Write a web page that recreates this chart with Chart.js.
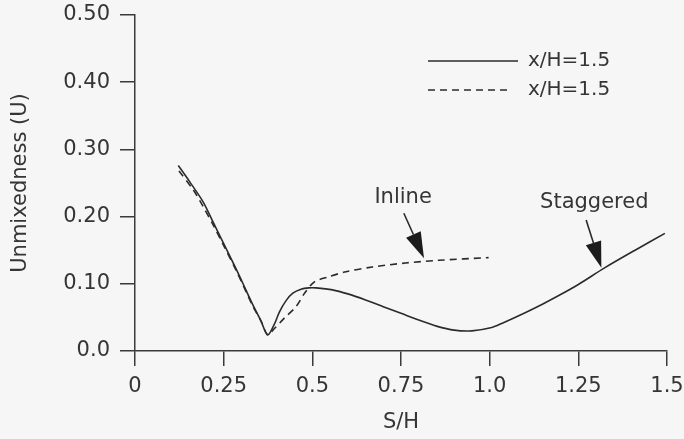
<!DOCTYPE html>
<html>
<head>
<meta charset="utf-8">
<script src="https://cdn.jsdelivr.net/npm/chart.js@4.4.1/dist/chart.umd.min.js"></script>
<style>
  html, body { margin: 0; padding: 0; background: #f6f6f6; }
  #chart { display: block; }
</style>
</head>
<body>
<canvas id="chart" width="684" height="439"></canvas>
<script>
// values
var staggeredSH = [0.122, 0.154, 0.192, 0.220, 0.248, 0.286, 0.310, 0.332, 0.355, 0.374, 0.393, 0.407, 0.426, 0.445, 0.468, 0.490, 0.510, 0.557, 0.600, 0.650, 0.700, 0.750, 0.800, 0.850, 0.900, 0.950, 1.006, 1.034, 1.100, 1.150, 1.200, 1.250, 1.325, 1.410, 1.494];
var staggeredU  = [0.276, 0.252, 0.222, 0.192, 0.162, 0.121, 0.094, 0.069, 0.045, 0.024, 0.040, 0.058, 0.075, 0.086, 0.092, 0.094, 0.094, 0.091, 0.085, 0.076, 0.066, 0.056, 0.046, 0.037, 0.031, 0.030, 0.035, 0.041, 0.057, 0.070, 0.084, 0.099, 0.124, 0.150, 0.175];
var inlineSH = [0.124, 0.164, 0.192, 0.220, 0.248, 0.286, 0.332, 0.355, 0.374, 0.389, 0.421, 0.454, 0.478, 0.506, 0.543, 0.595, 0.669, 0.763, 0.857, 0.997];
var inlineU  = [0.268, 0.240, 0.215, 0.188, 0.159, 0.119, 0.067, 0.045, 0.024, 0.031, 0.049, 0.066, 0.086, 0.103, 0.110, 0.118, 0.125, 0.131, 0.135, 0.139];

var seriesLabels = ["x/H=1.5", "x/H=1.5"];
var xTickLabels = ["0", "0.25", "0.5", "0.75", "1.0", "1.25", "1.5"];
var yTickLabels = ["0.0", "0.10", "0.20", "0.30", "0.40", "0.50"];

// callout labels and arrows, in data units
var calloutText = ["Inline", "Staggered"];
var calloutTextAt = [[0.756, 0.229], [1.295, 0.221]];
var calloutFrom = [[0.758, 0.205], [1.272, 0.195]];
var calloutTo = [[0.815, 0.138], [1.315, 0.124]];

var FONT = '"DejaVu Sans", "Liberation Sans", sans-serif';
var INK = '#2b2b2b';
var TEXT = '#353535';

function toPoints(xs, ys) {
  return xs.map(function (x, i) { return { x: x, y: ys[i] }; });
}

var legendLines = {
  id: 'legendLines',
  afterDraw: function (chart) {
    var ctx = chart.ctx;
    chart.data.datasets.forEach(function (ds, i) {
      var y = 61 + i * 29;
      ctx.save();
      ctx.strokeStyle = ds.borderColor;
      ctx.lineWidth = ds.borderWidth;
      ctx.setLineDash(ds.borderDash || []);
      ctx.beginPath();
      ctx.moveTo(428, y);
      ctx.lineTo(i === 0 ? 518 : 512, y);
      ctx.stroke();
      ctx.setLineDash([]);
      ctx.fillStyle = TEXT;
      ctx.font = '20px ' + FONT;
      ctx.textBaseline = 'middle';
      ctx.fillText(ds.label, 528, y);
      ctx.restore();
    });
  }
};

var callouts = {
  id: 'callouts',
  afterDatasetsDraw: function (chart) {
    var ctx = chart.ctx, xs = chart.scales.x, ys = chart.scales.y;
    ctx.save();
    for (var i = 0; i < calloutText.length; i++) {
      var tx = xs.getPixelForValue(calloutTextAt[i][0]), ty = ys.getPixelForValue(calloutTextAt[i][1]);
      ctx.fillStyle = TEXT;
      ctx.font = '21px ' + FONT;
      ctx.textAlign = 'center';
      ctx.textBaseline = 'middle';
      ctx.fillText(calloutText[i], tx, ty);

      var x0 = xs.getPixelForValue(calloutFrom[i][0]), y0 = ys.getPixelForValue(calloutFrom[i][1]);
      var x1 = xs.getPixelForValue(calloutTo[i][0]), y1 = ys.getPixelForValue(calloutTo[i][1]);
      var ang = Math.atan2(y1 - y0, x1 - x0);
      var len = 26, half = 8;
      var bx = x1 - len * Math.cos(ang), by = y1 - len * Math.sin(ang);
      ctx.strokeStyle = INK;
      ctx.lineWidth = 1.6;
      ctx.beginPath();
      ctx.moveTo(x0, y0);
      ctx.lineTo(bx, by);
      ctx.stroke();
      ctx.fillStyle = '#1c1c1c';
      ctx.beginPath();
      ctx.moveTo(x1, y1);
      ctx.lineTo(bx + half * Math.sin(ang), by - half * Math.cos(ang));
      ctx.lineTo(bx - half * Math.sin(ang), by + half * Math.cos(ang));
      ctx.closePath();
      ctx.fill();
    }
    ctx.restore();
  }
};

new Chart(document.getElementById('chart'), {
  type: 'line',
  data: {
    datasets: [
      {
        label: seriesLabels[0],
        data: toPoints(staggeredSH, staggeredU),
        borderColor: INK,
        borderWidth: 1.6,
        pointRadius: 0,
        tension: 0.3,
        fill: false
      },
      {
        label: seriesLabels[1],
        data: toPoints(inlineSH, inlineU),
        borderColor: INK,
        borderWidth: 1.6,
        borderDash: [7, 5],
        pointRadius: 0,
        tension: 0.3,
        fill: false
      }
    ]
  },
  options: {
    responsive: false,
    animation: false,
    layout: { padding: { top: 15, right: 17, left: 0, bottom: 0 } },
    plugins: {
      legend: { display: false },
      tooltip: { enabled: false }
    },
    scales: {
      x: {
        type: 'linear',
        min: 0,
        max: 1.5,
        afterFit: function (scale) {
          scale.height = 88;
          scale.paddingLeft = 0;
          scale.paddingRight = 0;
        },
        ticks: {
          stepSize: 0.25,
          autoSkip: false,
          maxRotation: 0,
          padding: 8,
          color: TEXT,
          font: { family: FONT, size: 21 },
          callback: function (v, i) { return xTickLabels[i]; }
        },
        grid: { drawOnChartArea: false, drawTicks: true, tickLength: 15, color: '#3a3a3a', lineWidth: 1.5 },
        border: { display: true, color: '#3a3a3a', width: 1.5 },
        title: {
          display: true,
          text: 'S/H',
          color: TEXT,
          font: { family: FONT, size: 21 },
          padding: { top: 0, bottom: 4 }
        }
      },
      y: {
        min: 0,
        max: 0.5,
        afterFit: function (scale) {
          scale.width = 135;
          scale.paddingTop = 0;
          scale.paddingBottom = 0;
        },
        ticks: {
          stepSize: 0.1,
          autoSkip: false,
          padding: 10,
          color: TEXT,
          font: { family: FONT, size: 21 },
          callback: function (v, i) { return yTickLabels[i]; }
        },
        grid: { drawOnChartArea: false, drawTicks: true, tickLength: 15, color: '#3a3a3a', lineWidth: 1.5 },
        border: { display: true, color: '#3a3a3a', width: 1.5 },
        title: {
          display: true,
          text: 'Unmixedness (U)',
          color: TEXT,
          font: { family: FONT, size: 21 },
          padding: { top: 8, bottom: 0 }
        }
      }
    }
  },
  plugins: [legendLines, callouts]
});
</script>
</body>
</html>
